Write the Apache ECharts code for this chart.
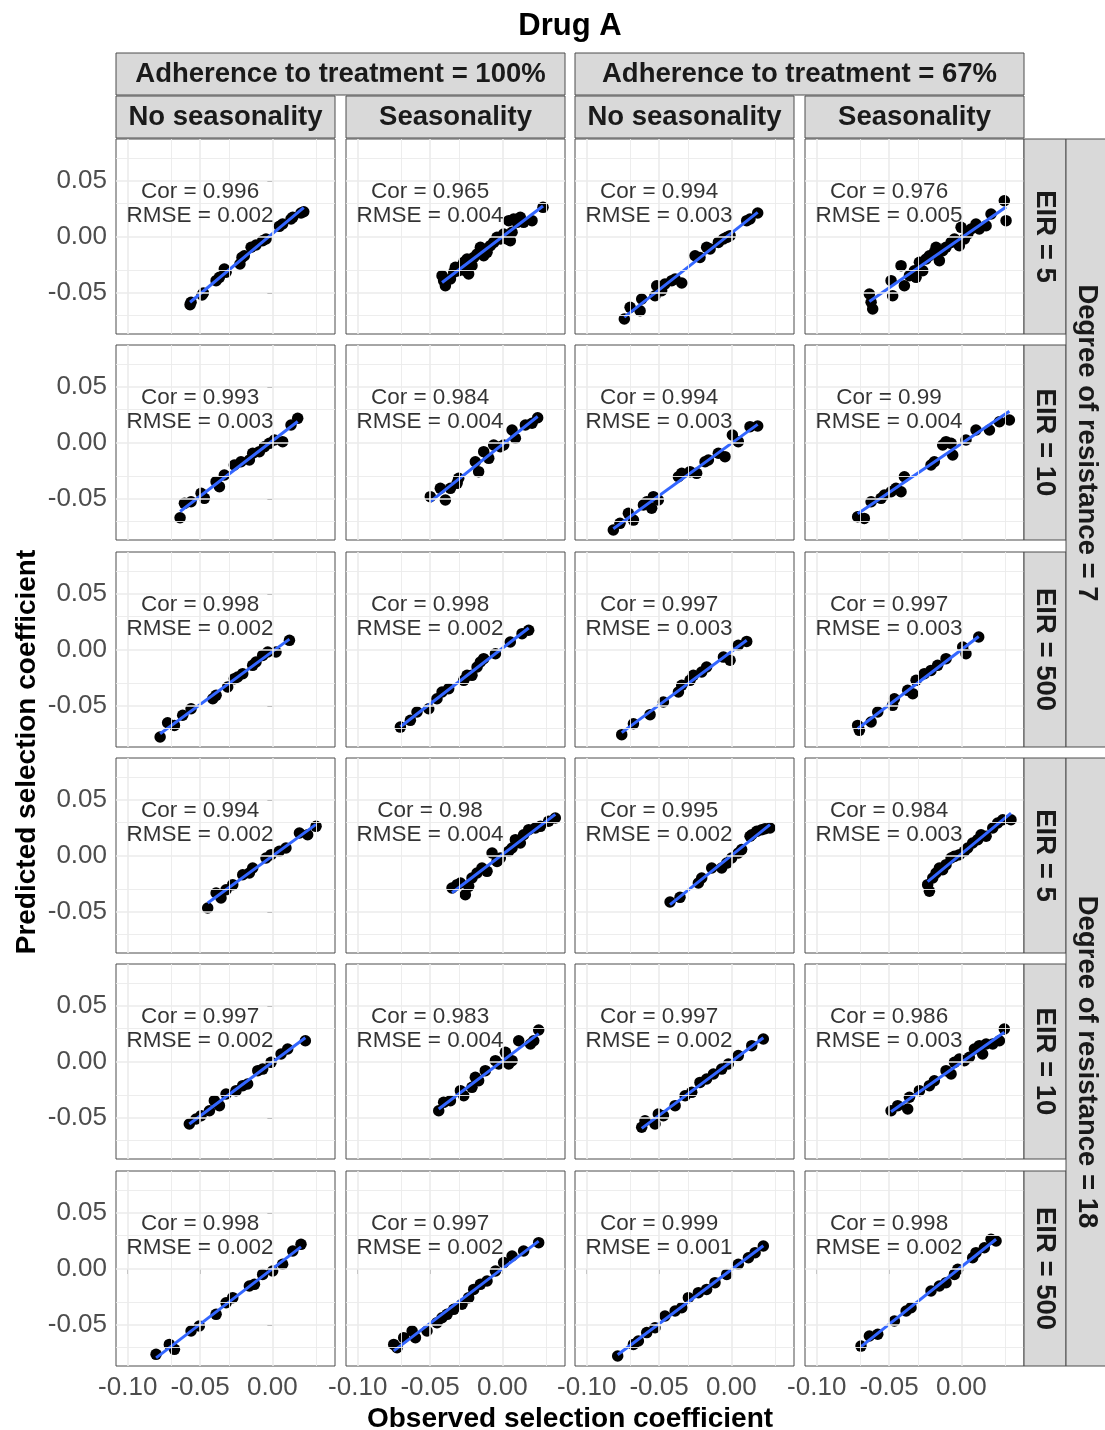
<!DOCTYPE html>
<html>
<head>
<meta charset="utf-8">
<script src="https://cdn.jsdelivr.net/npm/echarts@6/dist/echarts.min.js"></script>
<style>
  html, body { margin: 0; padding: 0; background: #ffffff; }
  #chart { width: 1105px; height: 1430px; }
</style>
</head>
<body>
<div id="chart"></div>
<script>
// ---- Facet labels ----
const plotTitle = 'Drug A';
const adherenceLabels = ['Adherence to treatment = 100%', 'Adherence to treatment = 67%'];
const seasonLabels = ['No seasonality', 'Seasonality', 'No seasonality', 'Seasonality'];
const eirLabels = ['EIR = 5', 'EIR = 10', 'EIR = 500', 'EIR = 5', 'EIR = 10', 'EIR = 500'];
const resistanceLabels = ['Degree of resistance = 7', 'Degree of resistance = 18'];
const xTitle = 'Observed selection coefficient';
const yTitle = 'Predicted selection coefficient';

// ---- Axis ticks (shared by all panels) ----
const xMajor = [-0.10, -0.05, 0.00];
const xMinor = [-0.075, -0.025, 0.025];
const yMajor = [-0.05, 0.00, 0.05];
const yMinor = [-0.075, -0.025, 0.025, 0.075];
const xRange = [-0.1081, 0.0433];
const yRange = [-0.0866, 0.0875];

// ---- Correlation / RMSE per panel (row by row, 4 columns each) ----
const corValues = [
  0.996, 0.965, 0.994, 0.976,
  0.993, 0.984, 0.994, 0.99,
  0.998, 0.998, 0.997, 0.997,
  0.994, 0.98, 0.995, 0.984,
  0.997, 0.983, 0.997, 0.986,
  0.998, 0.997, 0.999, 0.998
];
const rmseValues = [
  0.002, 0.004, 0.003, 0.005,
  0.003, 0.004, 0.003, 0.004,
  0.002, 0.002, 0.003, 0.003,
  0.002, 0.004, 0.002, 0.003,
  0.002, 0.004, 0.002, 0.003,
  0.002, 0.002, 0.001, 0.002
];

// ---- Observed vs predicted selection coefficients ----
// resistance 7, EIR 5
const r7e5_a100_none = [[-0.0562,-0.0583],[-0.0569,-0.0604],[-0.0477,-0.0500],[-0.0486,-0.0518],[-0.0389,-0.0390],[-0.0366,-0.0360],[-0.0332,-0.0286],[-0.0320,-0.0315],[-0.0224,-0.0241],[-0.0210,-0.0182],[-0.0194,-0.0167],[-0.0147,-0.0092],[-0.0113,-0.0071],[-0.0067,-0.0033],[-0.0044,-0.0018],[0.0048,0.0095],[0.0071,0.0116],[0.0129,0.0161],[0.0141,0.0176],[0.0198,0.0214],[0.0217,0.0226]];
const r7e5_a100_seas = [[-0.0417,-0.0345],[-0.0406,-0.0390],[-0.0394,-0.0435],[-0.0359,-0.0375],[-0.0336,-0.0315],[-0.0325,-0.0271],[-0.0302,-0.0301],[-0.0279,-0.0256],[-0.0267,-0.0226],[-0.0244,-0.0196],[-0.0233,-0.0330],[-0.0256,-0.0301],[-0.0210,-0.0256],[-0.0198,-0.0182],[-0.0175,-0.0152],[-0.0152,-0.0092],[-0.0129,-0.0167],[-0.0106,-0.0137],[-0.0083,-0.0077],[-0.0060,-0.0048],[-0.0037,-0.0003],[-0.0014,-0.0018],[0.0009,0.0027],[0.0032,-0.0018],[0.0055,-0.0033],[0.0067,0.0042],[0.0044,0.0146],[0.0078,0.0161],[0.0101,0.0131],[0.0124,0.0176],[0.0147,0.0131],[0.0205,0.0146],[0.0281,0.0265]];
const r7e5_a67_none = [[-0.0740,-0.0732],[-0.0700,-0.0628],[-0.0631,-0.0658],[-0.0620,-0.0554],[-0.0528,-0.0524],[-0.0516,-0.0435],[-0.0482,-0.0479],[-0.0459,-0.0420],[-0.0412,-0.0390],[-0.0389,-0.0375],[-0.0343,-0.0411],[-0.0251,-0.0167],[-0.0217,-0.0182],[-0.0171,-0.0092],[-0.0147,-0.0107],[-0.0090,-0.0048],[-0.0055,-0.0018],[-0.0032,-0.0003],[-0.0009,0.0012],[0.0106,0.0146],[0.0129,0.0161],[0.0182,0.0214]];
const r7e5_a67_seas = [[-0.0624,-0.0583],[-0.0636,-0.0509],[-0.0613,-0.0643],[-0.0486,-0.0390],[-0.0475,-0.0524],[-0.0417,-0.0256],[-0.0394,-0.0435],[-0.0359,-0.0345],[-0.0325,-0.0301],[-0.0313,-0.0360],[-0.0290,-0.0226],[-0.0267,-0.0301],[-0.0244,-0.0196],[-0.0221,-0.0167],[-0.0187,-0.0137],[-0.0175,-0.0092],[-0.0152,-0.0211],[-0.0129,-0.0122],[-0.0106,-0.0092],[-0.0071,-0.0048],[-0.0048,-0.0018],[-0.0014,-0.0077],[-0.0002,0.0086],[0.0021,-0.0018],[0.0044,0.0027],[0.0067,0.0071],[0.0101,0.0116],[0.0124,0.0071],[0.0171,0.0101],[0.0205,0.0205],[0.0297,0.0324],[0.0309,0.0146]];
// resistance 7, EIR 10
const r7e10_a100_none = [[-0.0638,-0.0667],[-0.0608,-0.0539],[-0.0562,-0.0524],[-0.0493,-0.0449],[-0.0470,-0.0494],[-0.0389,-0.0345],[-0.0366,-0.0390],[-0.0332,-0.0286],[-0.0263,-0.0196],[-0.0217,-0.0167],[-0.0159,-0.0152],[-0.0136,-0.0092],[-0.0090,-0.0077],[-0.0055,-0.0033],[-0.0021,-0.0003],[0.0014,0.0027],[0.0071,0.0012],[0.0129,0.0161],[0.0175,0.0220]];
const r7e10_a100_seas = [[-0.0498,-0.0479],[-0.0429,-0.0405],[-0.0394,-0.0509],[-0.0359,-0.0405],[-0.0313,-0.0360],[-0.0302,-0.0315],[-0.0187,-0.0167],[-0.0164,-0.0256],[-0.0129,-0.0077],[-0.0094,-0.0137],[-0.0060,-0.0018],[-0.0014,-0.0033],[0.0009,-0.0018],[0.0067,0.0116],[0.0090,0.0042],[0.0159,0.0161],[0.0205,0.0176],[0.0244,0.0226]];
const r7e10_a67_none = [[-0.0816,-0.0777],[-0.0770,-0.0717],[-0.0712,-0.0628],[-0.0677,-0.0688],[-0.0608,-0.0554],[-0.0585,-0.0524],[-0.0539,-0.0479],[-0.0551,-0.0583],[-0.0505,-0.0509],[-0.0366,-0.0301],[-0.0343,-0.0271],[-0.0286,-0.0256],[-0.0240,-0.0271],[-0.0182,-0.0167],[-0.0159,-0.0152],[-0.0090,-0.0092],[-0.0044,-0.0122],[0.0007,0.0071],[0.0048,0.0012],[0.0129,0.0146],[0.0182,0.0152]];
const r7e10_a67_seas = [[-0.0717,-0.0658],[-0.0671,-0.0673],[-0.0624,-0.0524],[-0.0555,-0.0494],[-0.0532,-0.0464],[-0.0486,-0.0435],[-0.0452,-0.0405],[-0.0417,-0.0435],[-0.0394,-0.0301],[-0.0210,-0.0196],[-0.0187,-0.0167],[-0.0129,-0.0018],[-0.0106,0.0012],[-0.0071,-0.0003],[-0.0060,-0.0107],[0.0032,0.0027],[0.0101,0.0116],[0.0194,0.0116],[0.0263,0.0190],[0.0332,0.0205]];
// resistance 7, EIR 500
const r7e500_a100_none = [[-0.0776,-0.0777],[-0.0724,-0.0649],[-0.0677,-0.0673],[-0.0620,-0.0583],[-0.0562,-0.0524],[-0.0412,-0.0435],[-0.0389,-0.0405],[-0.0309,-0.0330],[-0.0263,-0.0256],[-0.0240,-0.0241],[-0.0205,-0.0211],[-0.0136,-0.0137],[-0.0113,-0.0107],[-0.0067,-0.0048],[-0.0032,-0.0018],[0.0025,-0.0018],[0.0118,0.0086]];
const r7e500_a100_seas = [[-0.0705,-0.0688],[-0.0636,-0.0628],[-0.0590,-0.0554],[-0.0509,-0.0524],[-0.0452,-0.0435],[-0.0417,-0.0375],[-0.0371,-0.0345],[-0.0267,-0.0271],[-0.0244,-0.0226],[-0.0210,-0.0226],[-0.0175,-0.0152],[-0.0152,-0.0107],[-0.0129,-0.0077],[-0.0048,-0.0033],[0.0055,0.0071],[0.0136,0.0146],[0.0182,0.0176]];
const r7e500_a67_none = [[-0.0758,-0.0756],[-0.0677,-0.0658],[-0.0562,-0.0577],[-0.0470,-0.0464],[-0.0366,-0.0375],[-0.0343,-0.0315],[-0.0286,-0.0271],[-0.0263,-0.0226],[-0.0205,-0.0196],[-0.0171,-0.0152],[-0.0055,-0.0063],[-0.0009,-0.0092],[0.0048,0.0042],[0.0106,0.0077]];
const r7e500_a67_seas = [[-0.0717,-0.0673],[-0.0705,-0.0717],[-0.0624,-0.0643],[-0.0578,-0.0554],[-0.0475,-0.0494],[-0.0463,-0.0435],[-0.0371,-0.0360],[-0.0336,-0.0390],[-0.0313,-0.0271],[-0.0256,-0.0211],[-0.0210,-0.0182],[-0.0164,-0.0137],[-0.0106,-0.0077],[0.0009,0.0027],[0.0032,-0.0033],[0.0120,0.0116]];
// resistance 18, EIR 5
const r18e5_a100_none = [[-0.0447,-0.0464],[-0.0389,-0.0330],[-0.0355,-0.0375],[-0.0320,-0.0301],[-0.0274,-0.0256],[-0.0205,-0.0167],[-0.0159,-0.0152],[-0.0136,-0.0107],[-0.0044,-0.0018],[-0.0009,0.0012],[0.0048,0.0042],[0.0094,0.0071],[0.0187,0.0205],[0.0244,0.0190],[0.0302,0.0265]];
const r18e5_a100_seas = [[-0.0348,-0.0286],[-0.0313,-0.0256],[-0.0290,-0.0241],[-0.0256,-0.0345],[-0.0233,-0.0271],[-0.0210,-0.0196],[-0.0175,-0.0152],[-0.0141,-0.0107],[-0.0106,-0.0137],[-0.0071,0.0027],[-0.0037,-0.0048],[-0.0014,-0.0018],[0.0044,0.0042],[0.0067,0.0071],[0.0090,0.0146],[0.0124,0.0116],[0.0147,0.0190],[0.0182,0.0235],[0.0228,0.0250],[0.0263,0.0265],[0.0320,0.0310],[0.0366,0.0339]];
const r18e5_a67_none = [[-0.0424,-0.0411],[-0.0355,-0.0369],[-0.0228,-0.0241],[-0.0205,-0.0196],[-0.0136,-0.0107],[-0.0067,-0.0107],[-0.0032,-0.0063],[0.0002,-0.0018],[0.0048,0.0027],[0.0071,0.0057],[0.0129,0.0176],[0.0141,0.0190],[0.0175,0.0220],[0.0210,0.0235],[0.0233,0.0244],[0.0267,0.0250]];
const r18e5_a67_seas = [[-0.0233,-0.0256],[-0.0221,-0.0315],[-0.0198,-0.0196],[-0.0175,-0.0152],[-0.0152,-0.0107],[-0.0129,-0.0122],[-0.0106,-0.0077],[-0.0071,-0.0018],[-0.0048,-0.0003],[-0.0014,0.0012],[0.0021,0.0042],[0.0044,0.0071],[0.0078,0.0116],[0.0113,0.0146],[0.0136,0.0190],[0.0171,0.0176],[0.0217,0.0250],[0.0251,0.0295],[0.0286,0.0324],[0.0343,0.0324]];
// resistance 18, EIR 10
const r18e10_a100_none = [[-0.0574,-0.0554],[-0.0528,-0.0509],[-0.0493,-0.0479],[-0.0435,-0.0435],[-0.0401,-0.0345],[-0.0366,-0.0390],[-0.0320,-0.0286],[-0.0251,-0.0256],[-0.0205,-0.0211],[-0.0171,-0.0196],[-0.0101,-0.0077],[-0.0067,-0.0063],[-0.0009,-0.0003],[0.0060,0.0071],[0.0106,0.0116],[0.0228,0.0190]];
const r18e10_a100_seas = [[-0.0440,-0.0435],[-0.0406,-0.0360],[-0.0359,-0.0345],[-0.0290,-0.0256],[-0.0267,-0.0301],[-0.0210,-0.0226],[-0.0187,-0.0137],[-0.0164,-0.0167],[-0.0118,-0.0077],[-0.0048,0.0012],[-0.0025,-0.0018],[0.0021,0.0086],[0.0044,-0.0018],[0.0067,0.0012],[0.0113,0.0190],[0.0194,0.0161],[0.0217,0.0190],[0.0251,0.0286]];
const r18e10_a67_none = [[-0.0620,-0.0583],[-0.0597,-0.0524],[-0.0528,-0.0554],[-0.0505,-0.0464],[-0.0470,-0.0479],[-0.0389,-0.0390],[-0.0320,-0.0301],[-0.0274,-0.0271],[-0.0217,-0.0182],[-0.0171,-0.0152],[-0.0124,-0.0107],[-0.0067,-0.0063],[-0.0021,-0.0018],[0.0048,0.0057],[0.0141,0.0146],[0.0221,0.0205]];
const r18e10_a67_seas = [[-0.0486,-0.0435],[-0.0440,-0.0390],[-0.0371,-0.0420],[-0.0359,-0.0315],[-0.0290,-0.0256],[-0.0221,-0.0211],[-0.0187,-0.0167],[-0.0106,-0.0077],[-0.0071,-0.0107],[-0.0048,-0.0003],[-0.0014,0.0027],[0.0021,0.0012],[0.0055,0.0042],[0.0090,0.0116],[0.0124,0.0146],[0.0147,0.0071],[0.0171,0.0161],[0.0217,0.0161],[0.0263,0.0190],[0.0297,0.0295]];
// resistance 18, EIR 500
const r18e500_a100_none = [[-0.0804,-0.0762],[-0.0712,-0.0673],[-0.0677,-0.0717],[-0.0562,-0.0554],[-0.0505,-0.0509],[-0.0389,-0.0405],[-0.0320,-0.0301],[-0.0274,-0.0256],[-0.0159,-0.0152],[-0.0124,-0.0137],[-0.0067,-0.0048],[0.0002,-0.0018],[0.0071,0.0042],[0.0141,0.0161],[0.0198,0.0220]];
const r18e500_a100_seas = [[-0.0751,-0.0673],[-0.0728,-0.0702],[-0.0682,-0.0613],[-0.0624,-0.0554],[-0.0601,-0.0613],[-0.0521,-0.0554],[-0.0452,-0.0479],[-0.0417,-0.0435],[-0.0382,-0.0405],[-0.0336,-0.0360],[-0.0279,-0.0315],[-0.0233,-0.0256],[-0.0198,-0.0182],[-0.0152,-0.0137],[-0.0106,-0.0107],[-0.0048,-0.0018],[0.0009,0.0057],[0.0067,0.0116],[0.0147,0.0161],[0.0251,0.0235]];
const r18e500_a67_none = [[-0.0786,-0.0777],[-0.0677,-0.0673],[-0.0643,-0.0643],[-0.0585,-0.0568],[-0.0528,-0.0524],[-0.0459,-0.0420],[-0.0389,-0.0375],[-0.0343,-0.0345],[-0.0297,-0.0256],[-0.0228,-0.0211],[-0.0171,-0.0182],[-0.0113,-0.0122],[-0.0032,-0.0048],[0.0048,0.0042],[0.0118,0.0101],[0.0164,0.0146],[0.0221,0.0205]];
const r18e500_a67_seas = [[-0.0694,-0.0688],[-0.0636,-0.0598],[-0.0578,-0.0583],[-0.0463,-0.0464],[-0.0382,-0.0375],[-0.0348,-0.0345],[-0.0210,-0.0196],[-0.0152,-0.0152],[-0.0106,-0.0122],[-0.0048,-0.0048],[-0.0025,-0.0003],[0.0078,0.0101],[0.0101,0.0146],[0.0159,0.0190],[0.0205,0.0265],[0.0240,0.0250]];

const panelData = [
  r7e5_a100_none, r7e5_a100_seas, r7e5_a67_none, r7e5_a67_seas,
  r7e10_a100_none, r7e10_a100_seas, r7e10_a67_none, r7e10_a67_seas,
  r7e500_a100_none, r7e500_a100_seas, r7e500_a67_none, r7e500_a67_seas,
  r18e5_a100_none, r18e5_a100_seas, r18e5_a67_none, r18e5_a67_seas,
  r18e10_a100_none, r18e10_a100_seas, r18e10_a67_none, r18e10_a67_seas,
  r18e500_a100_none, r18e500_a100_seas, r18e500_a67_none, r18e500_a67_seas
];

// Anchor of the correlation text inside each panel (data units)
const statAnchor = [-0.05, 0.03];

// ---- Layout ----
const FONT = '"Liberation Sans", Arial, Helvetica, sans-serif';
const colLeft = [116, 346, 575, 805];
const rowTop = [139, 345, 552, 758, 964, 1171];
const PW = 219, PH = 195;
const STRIP = 42;
const stripFill = '#d9d9d9', stripBorder = '#4d4d4d';

// least-squares fit drawn over the range of observed values
function fitLine(pts) {
  const n = pts.length;
  let sx = 0, sy = 0, sxx = 0, sxy = 0;
  pts.forEach(([x, y]) => { sx += x; sy += y; sxx += x * x; sxy += x * y; });
  const b = (n * sxy - sx * sy) / (n * sxx - sx * sx);
  const a = (sy - b * sx) / n;
  const xs = pts.map(p => p[0]);
  const x0 = Math.min(...xs), x1 = Math.max(...xs);
  return [[x0, a + b * x0], [x1, a + b * x1]];
}

const grids = [], xAxes = [], yAxes = [], series = [];
panelData.forEach((pts, i) => {
  const r = Math.floor(i / 4), c = i % 4;
  grids.push({
    left: colLeft[c], top: rowTop[r], width: PW, height: PH,
    show: true, backgroundColor: '#ffffff', borderColor: '#4d4d4d', borderWidth: 1
  });
  const bottomRow = r === 5, leftCol = c === 0;
  xAxes.push({
    type: 'value', gridIndex: i, min: xRange[0], max: xRange[1],
    axisLine: { show: false }, splitLine: { show: false },
    axisTick: { show: bottomRow, customValues: xMajor, length: 5, lineStyle: { color: '#333333', width: 1 } },
    axisLabel: {
      show: bottomRow, customValues: xMajor, margin: 9,
      formatter: v => v.toFixed(2), color: '#4d4d4d', fontSize: 26, fontFamily: FONT
    }
  });
  yAxes.push({
    type: 'value', gridIndex: i, min: yRange[0], max: yRange[1],
    axisLine: { show: false }, splitLine: { show: false },
    axisTick: { show: leftCol, customValues: yMajor, length: 5, lineStyle: { color: '#333333', width: 1 } },
    axisLabel: {
      show: leftCol, customValues: yMajor, margin: 9,
      formatter: v => v.toFixed(2), color: '#4d4d4d', fontSize: 26, fontFamily: FONT
    }
  });

  // panel grid lines
  const gridLine = (key, v, w) => ({ [key]: v, lineStyle: { width: w } });
  series.push({
    type: 'line', xAxisIndex: i, yAxisIndex: i, data: [], silent: true, z: 1,
    markLine: {
      silent: true, symbol: ['none', 'none'], animation: false,
      label: { show: false }, emphasis: { disabled: true },
      lineStyle: { color: '#ebebeb', type: 'solid' },
      data: [
        ...xMinor.map(v => gridLine('xAxis', v, 0.9)),
        ...yMinor.map(v => gridLine('yAxis', v, 0.9)),
        ...xMajor.map(v => gridLine('xAxis', v, 1.6)),
        ...yMajor.map(v => gridLine('yAxis', v, 1.6))
      ]
    }
  });

  // points
  series.push({
    type: 'scatter', xAxisIndex: i, yAxisIndex: i, data: pts, z: 3,
    symbol: 'circle', symbolSize: 11.5, itemStyle: { color: '#000000', opacity: 1 },
    silent: true
  });

  // fitted line
  series.push({
    type: 'line', xAxisIndex: i, yAxisIndex: i, data: fitLine(pts), z: 4,
    symbol: 'none', silent: true, lineStyle: { color: '#3366ff', width: 3 }
  });

  // correlation / RMSE text
  series.push({
    type: 'scatter', xAxisIndex: i, yAxisIndex: i, z: 5, silent: true,
    data: [statAnchor], symbolSize: 1, itemStyle: { color: 'rgba(0,0,0,0)' },
    label: {
      show: true, position: 'inside', align: 'center', verticalAlign: 'middle',
      formatter: () => `Cor = ${corValues[i]}\nRMSE = ${rmseValues[i]}`,
      color: '#000000', fontSize: 22.5, lineHeight: 24, fontFamily: FONT
    }
  });
});

// ---- Strips and titles ----
const graphics = [];
function strip(x, y, w, h, text, rot) {
  graphics.push({
    type: 'rect', shape: { x, y, width: w, height: h }, z: 10,
    style: { fill: stripFill, stroke: stripBorder, lineWidth: 1 }
  });
  graphics.push({
    type: 'text', x: x + w / 2, y: y + h / 2, rotation: rot || 0, z: 11,
    style: {
      text, textAlign: 'center', textVerticalAlign: 'middle',
      font: `bold 27.5px ${FONT}`, fill: '#1a1a1a'
    }
  });
}
const stripTopOuter = 53, stripTopInner = 96;
adherenceLabels.forEach((t, g) => {
  const x0 = colLeft[2 * g], x1 = colLeft[2 * g + 1] + PW;
  strip(x0, stripTopOuter, x1 - x0, STRIP, t);
});
seasonLabels.forEach((t, c) => strip(colLeft[c], stripTopInner, PW, STRIP, t));
const rightInner = colLeft[3] + PW;
eirLabels.forEach((t, r) => strip(rightInner, rowTop[r], STRIP, PH, t, -Math.PI / 2));
resistanceLabels.forEach((t, g) => {
  const y0 = rowTop[3 * g], y1 = rowTop[3 * g + 2] + PH;
  strip(rightInner + STRIP, y0, STRIP, y1 - y0, t, -Math.PI / 2);
});
graphics.push({
  type: 'text', x: 570, y: 26, z: 11,
  style: { text: plotTitle, textAlign: 'center', textVerticalAlign: 'middle', font: `bold 31px ${FONT}`, fill: '#000000' }
});
graphics.push({
  type: 'text', x: 570, y: 1419, z: 11,
  style: { text: xTitle, textAlign: 'center', textVerticalAlign: 'middle', font: `bold 28px ${FONT}`, fill: '#000000' }
});
graphics.push({
  type: 'text', x: 27, y: 752, rotation: Math.PI / 2, z: 11,
  style: { text: yTitle, textAlign: 'center', textVerticalAlign: 'middle', font: `bold 28px ${FONT}`, fill: '#000000' }
});

const chart = echarts.init(document.getElementById('chart'), null, { renderer: 'canvas' });
chart.setOption({
  backgroundColor: '#ffffff',
  animation: false,
  textStyle: { fontFamily: FONT },
  grid: grids,
  xAxis: xAxes,
  yAxis: yAxes,
  series: series,
  graphic: { elements: graphics }
});
</script>
</body>
</html>
